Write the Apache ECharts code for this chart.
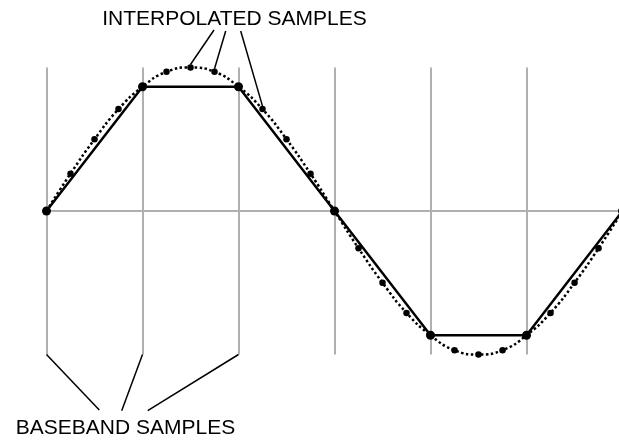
<!DOCTYPE html>
<html>
<head>
<meta charset="utf-8">
<script src="https://cdn.jsdelivr.net/npm/echarts@6/dist/echarts.min.js"></script>
<style>
html,body{margin:0;padding:0;background:#fff;}
#c{width:619px;height:440px;}
</style>
</head>
<body>
<div id="c"></div>
<script>
// Phase in degrees; baseband samples every 60 deg, interpolated (4x) every 15 deg
const basebandPhase = [0, 60, 120, 180, 240, 300, 360];
const basebandValues = [0, 0.866, 0.866, 0, -0.866, -0.866, 0];
const interpPhase = [0, 15, 30, 45, 60, 75, 90, 105, 120, 135, 150, 165, 180,
  195, 210, 225, 240, 255, 270, 285, 300, 315, 330, 345, 360];
const interpValues = [0, 0.26, 0.5, 0.71, 0.866, 0.97, 1, 0.97, 0.866, 0.71, 0.5, 0.26, 0,
  -0.26, -0.5, -0.71, -0.866, -0.97, -1, -0.97, -0.866, -0.71, -0.5, -0.26, 0];
const topLabel = 'INTERPOLATED SAMPLES';
const bottomLabel = 'BASEBAND SAMPLES';
const topPointers = [90, 105, 135];     // interpolated samples pointed at
const bottomPointers = [0, 60, 120];    // baseband sample gridlines pointed at

const chart = echarts.init(document.getElementById('c'), null, {renderer: 'canvas'});
const FONT = '"Liberation Sans", Arial, sans-serif';

chart.setOption({
  animation: false,
  backgroundColor: '#ffffff',
  grid: {left: 46.5, top: 67.5, right: 0, height: 287},
  xAxis: {
    type: 'value', min: 0, max: 357.8, interval: 60,
    axisLine: {show: true, onZero: true, lineStyle: {color: '#b0b0b0', width: 2}},
    axisTick: {show: false},
    axisLabel: {show: false},
    splitLine: {show: true, showMaxLine: false, lineStyle: {color: '#b0b0b0', width: 2}}
  },
  yAxis: {
    type: 'value', min: -1, max: 1, show: false,
    splitLine: {show: false}
  },
  series: [
    {
      type: 'line',
      data: basebandPhase.map((p, i) => [p, basebandValues[i]]),
      clip: false,
      symbol: 'circle', symbolSize: 9,
      itemStyle: {color: '#000'},
      lineStyle: {color: '#000', width: 2.5},
      z: 3
    },
    {
      type: 'line',
      data: interpPhase.map((p, i) => [p, interpValues[i]]),
      smooth: true,
      clip: false,
      symbol: 'circle', symbolSize: 6.5,
      itemStyle: {color: '#000'},
      lineStyle: {color: '#000', width: 2.5, type: [2.5, 2.5]},
      z: 4
    }
  ]
});

function px(p, v) { return chart.convertToPixel({gridIndex: 0}, [p, v]); }

const graphics = [];
// top annotation
graphics.push({
  type: 'text', x: 234.5, y: 19.5,
  style: {text: topLabel, font: '21px ' + FONT, fill: '#000', align: 'center', verticalAlign: 'middle'}
});
const topStarts = [[214, 30], [225.7, 31], [240.7, 31]];
topPointers.forEach((p, i) => {
  const idx = interpPhase.indexOf(p);
  const e = px(p, interpValues[idx]);
  graphics.push({type: 'line', shape: {x1: topStarts[i][0], y1: topStarts[i][1], x2: e[0], y2: e[1] - 3},
    style: {stroke: '#000', lineWidth: 1.5}});
});
// bottom annotation
graphics.push({
  type: 'text', x: 125.5, y: 428.5,
  style: {text: bottomLabel, font: '21px ' + FONT, fill: '#000', align: 'center', verticalAlign: 'middle'}
});
const bottomEnds = [[99.3, 410], [121.7, 410.7], [147.7, 410.7]];
bottomPointers.forEach((p, i) => {
  const s = px(p, -1);
  graphics.push({type: 'line', shape: {x1: s[0], y1: s[1], x2: bottomEnds[i][0], y2: bottomEnds[i][1]},
    style: {stroke: '#000', lineWidth: 1.5}});
});
chart.setOption({graphic: graphics});
</script>
</body>
</html>
